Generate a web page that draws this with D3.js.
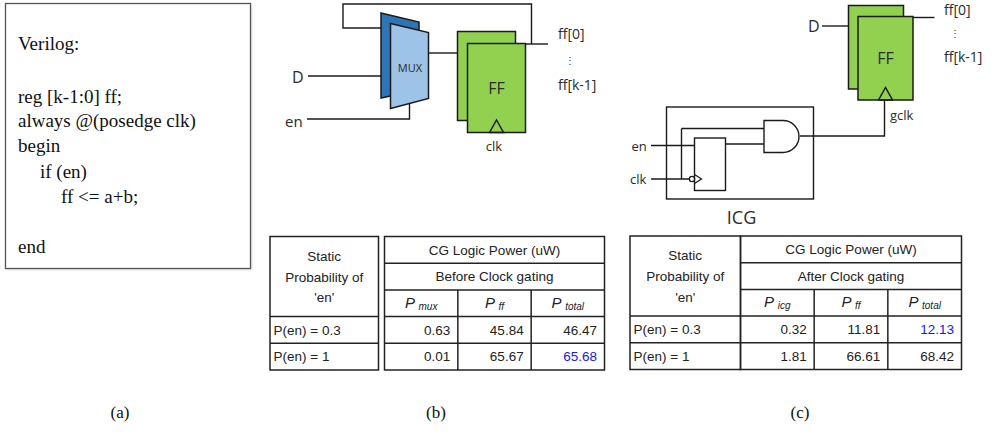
<!DOCTYPE html>
<html>
<head>
<meta charset="utf-8">
<script src="https://cdnjs.cloudflare.com/ajax/libs/d3/7.8.5/d3.min.js"></script>
<style>
  html, body { margin: 0; padding: 0; background: #fff; }
  svg { display: block; }
  .serif { font-family: "Liberation Serif", serif; fill: #111; }
  .sans { font-family: "Liberation Sans", Arial, sans-serif; fill: #222; }
  .diag { font-family: "Open Sans", "Noto Sans", sans-serif; fill: #2b2b2b; }
</style>
</head>
<body>
<div id="chart"></div>
<script>
// table contents
const rowLabels = ["P(en) = 0.3", "P(en) = 1"];
const staticLabel = ["Static", "Probability of", "'en'"];
const tableTitle = "CG Logic Power (uW)";

const beforeTitle = "Before Clock gating";
const beforeCols = ["mux", "ff", "total"];
const beforeValues = [["0.63", "45.84", "46.47"], ["0.01", "65.67", "65.68"]];
const beforeHighlight = [[1, 2]];

const afterTitle = "After Clock gating";
const afterCols = ["icg", "ff", "total"];
const afterValues = [["0.32", "11.81", "12.13"], ["1.81", "66.61", "68.42"]];
const afterHighlight = [[0, 2]];

// verilog listing, [line, indent]
const codeLines = [
  ["Verilog:", 0, 50], ["reg [k-1:0] ff;", 0, 103], ["always @(posedge clk)", 0, 127],
  ["begin", 0, 152], ["if (en)", 22, 178], ["ff  <= a+b;", 43, 203], ["end", 0, 253]
];
const captions = [["(a)", 120], ["(b)", 436], ["(c)", 800]];

const svg = d3.select("#chart").append("svg")
  .attr("width", 994)
  .attr("height", 432);

const line = d3.line();

function wire(g, pts, w) {
  return g.append("path")
    .attr("d", line(pts))
    .attr("fill", "none")
    .attr("stroke", "#1a1a1a")
    .attr("stroke-width", w || 1.4);
}

function shape(g, pts, fill) {
  return g.append("path")
    .attr("d", line(pts) + "Z")
    .attr("fill", fill)
    .attr("stroke", "#1a1a1a")
    .attr("stroke-width", 1.5);
}

function label(g, txt, x, y, size, anchor) {
  return g.append("text")
    .attr("class", "diag")
    .attr("x", x)
    .attr("y", y)
    .attr("dy", ".35em")
    .attr("font-size", size)
    .attr("text-anchor", anchor || "start")
    .text(txt);
}

// (a) code box
const code = svg.append("g");
code.append("rect")
  .attr("x", 7).attr("y", 5).attr("width", 245).attr("height", 265)
  .attr("fill", "#ddd").style("filter", "blur(1.5px)");
code.append("rect")
  .attr("x", 5.5).attr("y", 3.5).attr("width", 245).attr("height", 265)
  .attr("fill", "#fff").attr("stroke", "#555").attr("stroke-width", 1.3);
code.selectAll("text.code")
  .data(codeLines)
  .enter().append("text")
  .attr("class", "code serif")
  .attr("x", d => 18 + d[1])
  .attr("y", d => d[2])
  .attr("font-size", 19)
  .text(d => d[0]);

// captions
svg.selectAll("text.cap")
  .data(captions)
  .enter().append("text")
  .attr("class", "cap serif")
  .attr("x", d => d[1])
  .attr("y", 418)
  .attr("text-anchor", "middle")
  .attr("font-size", 17)
  .text(d => d[0]);

// flop pair, used in both diagrams
function flops(g, bx, by, fx, fy, w, h) {
  shape(g, [[bx, by], [bx + w, by], [bx + w, by + h], [bx, by + h]], "#92d050");
  shape(g, [[fx, fy], [fx + w, fy], [fx + w, fy + h], [fx, fy + h]], "#92d050");
  const cx = fx + w / 2;
  const bot = fy + h;
  wire(g, [[cx - 7, bot], [cx, bot - 12.5], [cx + 7, bot], [cx - 7, bot]], 1.5);
  label(g, "FF", cx, fy + h / 2, 16, "middle");
}

// (b) mux version
const muxDiag = svg.append("g");
wire(muxDiag, [[381, 28], [343, 28], [343, 4], [531.5, 4], [531.5, 44]]);
wire(muxDiag, [[308, 76], [381, 76]]);
wire(muxDiag, [[307, 119], [409.5, 119], [409.5, 104]]);
wire(muxDiag, [[428, 53], [458, 53]]);
wire(muxDiag, [[525, 44], [548, 44]]);
shape(muxDiag, [[381, 13], [419, 22], [419, 90], [381, 98]], "#2e75b6");
shape(muxDiag, [[390.5, 23.5], [428.5, 32.5], [428.5, 98.5], [390.5, 108.5]], "#9dc3e6");
label(muxDiag, "MUX", 410, 68, 11, "middle");
flops(muxDiag, 457.5, 31.5, 467.5, 43.5, 58, 89);
label(muxDiag, "D", 292, 77, 16);
label(muxDiag, "en", 285, 122, 15);
label(muxDiag, "clk", 494, 146, 13, "middle");
label(muxDiag, "ff[0]", 558, 34, 14);
label(muxDiag, "⋮", 569.5, 60, 10, "middle");
label(muxDiag, "ff[k-1]", 558, 85, 14);

// (c) ICG version
const icgDiag = svg.append("g");
wire(icgDiag, [[822, 26], [849, 26]]);
wire(icgDiag, [[912.5, 17.5], [934.5, 17.5]]);
flops(icgDiag, 848.5, 5.5, 858, 16.5, 55, 83.5);
wire(icgDiag, [[884.5, 100], [884.5, 136], [800, 136]]);
icgDiag.append("rect")
  .attr("x", 666.5).attr("y", 107).attr("width", 147).attr("height", 92)
  .attr("fill", "none").attr("stroke", "#1a1a1a").attr("stroke-width", 1.4);
icgDiag.append("rect")
  .attr("x", 694.5).attr("y", 138).attr("width", 31).attr("height", 52.5)
  .attr("fill", "#fff").attr("stroke", "#1a1a1a").attr("stroke-width", 1.4);
wire(icgDiag, [[681.5, 128.5], [764, 128.5]]);
wire(icgDiag, [[681.5, 128.5], [681.5, 179]]);
wire(icgDiag, [[725.5, 144], [764, 144]]);
wire(icgDiag, [[651, 145.5], [694.5, 145.5]]);
wire(icgDiag, [[651, 179], [689.5, 179]]);
icgDiag.append("circle")
  .attr("cx", 692).attr("cy", 179).attr("r", 2.6)
  .attr("fill", "#fff").attr("stroke", "#1a1a1a").attr("stroke-width", 1.3);
wire(icgDiag, [[694.5, 174.5], [701.5, 179], [694.5, 183.5]], 1.3);
// AND gate
icgDiag.append("path")
  .attr("d", "M764,120.5H783A16,16 0 0 1 783,152.5H764Z")
  .attr("fill", "#fff")
  .attr("stroke", "#1a1a1a")
  .attr("stroke-width", 1.4);
label(icgDiag, "D", 808, 26, 16);
label(icgDiag, "en", 631.5, 146.5, 13);
label(icgDiag, "clk", 630, 179, 13);
label(icgDiag, "gclk", 890, 115.5, 13);
label(icgDiag, "ICG", 741.5, 217.5, 18, "middle");
label(icgDiag, "ff[0]", 944, 10.5, 14);
label(icgDiag, "⋮", 955, 33, 10, "middle");
label(icgDiag, "ff[k-1]", 944, 57, 14);

// tables: 5 equal rows, left cell + 3 equal columns
function drawTable(opt) {
  const g = svg.append("g");
  const rows = ["title", "sub", "head", 0, 1];
  const y = d3.scaleBand().domain(rows).range([opt.top, opt.bottom]);
  const x = d3.scaleBand().domain(opt.cols).range([opt.colLeft, opt.right]);
  const cellLine = (x1, y1, x2, y2) => g.append("line")
    .attr("x1", x1).attr("y1", y1).attr("x2", x2).attr("y2", y2)
    .attr("stroke", "#222").attr("stroke-width", 1.5);

  const txt = (t, px, py, anchor, fill) => g.append("text")
    .attr("class", "sans")
    .attr("x", px)
    .attr("y", py)
    .attr("dy", ".35em")
    .attr("font-size", 13.5)
    .attr("text-anchor", anchor)
    .style("fill", fill || null)
    .text(t);

  // left block
  g.append("rect")
    .attr("x", opt.left).attr("y", opt.top)
    .attr("width", opt.leftRight - opt.left).attr("height", opt.bottom - opt.top)
    .attr("fill", "none").attr("stroke", "#222").attr("stroke-width", 1.5);
  // right block
  g.append("rect")
    .attr("x", opt.colLeft).attr("y", opt.top)
    .attr("width", opt.right - opt.colLeft).attr("height", opt.bottom - opt.top)
    .attr("fill", "none").attr("stroke", "#222").attr("stroke-width", 1.5);

  cellLine(opt.colLeft, y("sub"), opt.right, y("sub"));
  cellLine(opt.colLeft, y("head"), opt.right, y("head"));
  [y(0), y(1)].forEach(v => {
    cellLine(opt.left, v, opt.leftRight, v);
    cellLine(opt.colLeft, v, opt.right, v);
  });
  opt.cols.slice(1).forEach(c => cellLine(x(c), y("head"), x(c), opt.bottom));

  const midX = (opt.colLeft + opt.right) / 2;
  const midLeft = (opt.left + opt.leftRight) / 2;
  txt(tableTitle, midX, y("title") + y.bandwidth() / 2, "middle");
  txt(opt.title, midX, y("sub") + y.bandwidth() / 2, "middle");
  staticLabel.forEach((s, i) => txt(s, midLeft, opt.top + 19.5 + i * 20.8, "middle"));

  // P_xxx headers
  opt.cols.forEach(c => {
    const t = g.append("text")
      .attr("class", "sans")
      .attr("x", x(c) + x.bandwidth() / 2)
      .attr("y", y("head") + y.bandwidth() / 2 + 4.5)
      .attr("text-anchor", "middle")
      .attr("font-style", "italic");
    t.append("tspan").attr("font-size", 15).text("P ");
    t.append("tspan").attr("font-size", 10).attr("dy", 2).text(c);
  });

  rowLabels.forEach((r, i) => {
    txt(r, opt.left + 3.5, y(i) + y.bandwidth() / 2, "start");
    opt.cols.forEach((c, j) => {
      const hi = opt.highlight.some(h => h[0] === i && h[1] === j);
      txt(opt.values[i][j], x(c) + x.bandwidth() - 7.5, y(i) + y.bandwidth() / 2, "end", hi ? "#1a1ae6" : null);
    });
  });
}

drawTable({
  left: 270, leftRight: 378.5, colLeft: 384.5, right: 604.5, top: 236.5, bottom: 370,
  title: beforeTitle, cols: beforeCols, values: beforeValues, highlight: beforeHighlight
});
drawTable({
  left: 630, leftRight: 740.5, colLeft: 740.5, right: 961.5, top: 236, bottom: 369.5,
  title: afterTitle, cols: afterCols, values: afterValues, highlight: afterHighlight
});
</script>
</body>
</html>
